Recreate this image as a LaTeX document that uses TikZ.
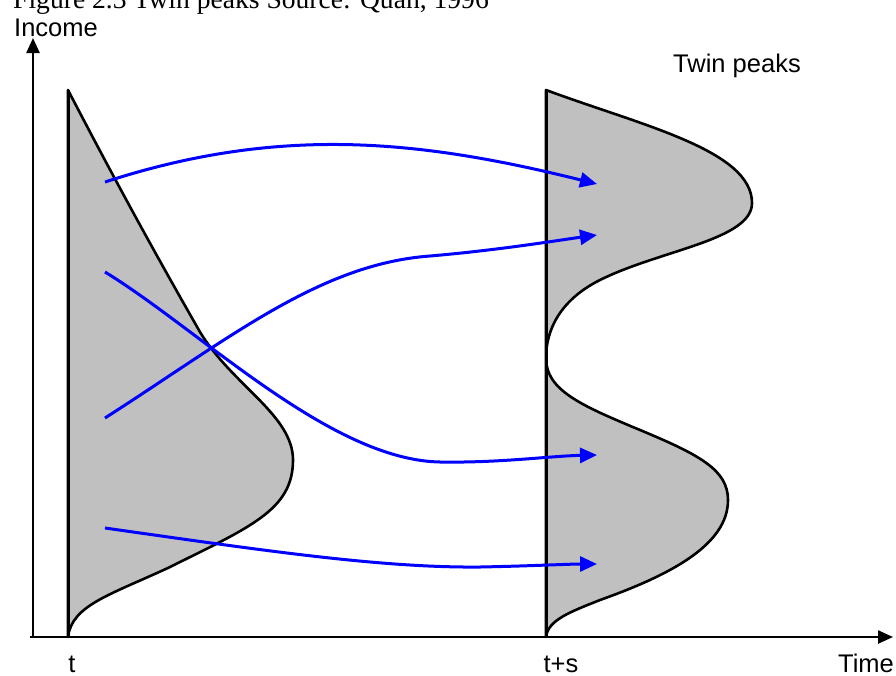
\documentclass[tikz,border=0pt]{standalone}
\usepackage{fontspec}
\setmainfont{Liberation Sans}
\newfontfamily\capfont{Liberation Serif}
\usetikzlibrary{arrows.meta}
\definecolor{distgray}{RGB}{192,192,192}
\definecolor{flowblue}{RGB}{0,0,255}
\begin{document}
\begin{tikzpicture}[x=1pt,y=-1pt,
  axisline/.style={line width=2.4pt, -{Triangle[length=15pt,width=13pt]}},
  dist/.style={fill=distgray, draw=black, line width=2.6pt, line join=round},
  baseline/.style={line width=3pt},
  flow/.style={draw=flowblue, line width=3pt, -{Triangle[length=17pt,width=15pt]}},
  lbl/.style={font=\fontsize{25.5}{26}\selectfont, inner sep=0pt, anchor=base}]
\useasboundingbox (0,0) rectangle (896,675);
\clip (0,0) rectangle (896,675);
% caption (cropped at the top)
\node[font=\capfont\fontsize{27.6}{28}\selectfont, anchor=base west, inner sep=0pt] (cap) at (13,8) {Figure 2.3 Twin peaks Source: Quah, 1996};
% coordinates
\coordinate (origin) at (33,637);
\coordinate (xstart) at (30,637);
\coordinate (ytop) at (33,38);
\coordinate (xend) at (893,637);
\coordinate (lbot) at (68,637);
\coordinate (ltop) at (68,90);
\coordinate (rbot) at (546,637);
\coordinate (rtop) at (546,90);
% left distribution (time t)
\path[dist] (lbot) -- (ltop) .. controls (120,190) and (160,262) .. (200,332)
  .. controls (232,385) and (293,415) .. (293,460)
  .. controls (293,510) and (250,527) .. (170,567)
  .. controls (110,595) and (72,605) .. (lbot) -- cycle;
\draw[baseline] (lbot) -- (ltop);
% right distribution (time t+s)
\path[dist] (rbot) -- (rtop) .. controls (640,125) and (752,150) .. (752,203)
  .. controls (752,240) and (660,250) .. (600,280)
  .. controls (560,300) and (546,330) .. (546,358)
  .. controls (546,390) and (580,405) .. (640,430)
  .. controls (700,455) and (728,470) .. (728,500)
  .. controls (728,545) and (670,575) .. (600,600)
  .. controls (570,612) and (548,620) .. (rbot) -- cycle;
\draw[baseline] (rbot) -- (rtop);
% axes
\draw[axisline] (origin) -- (ytop);
\draw[axisline] (xstart) -- (xend);
% flows
\coordinate (a1s) at (105,182); \coordinate (a1e) at (597,184);
\coordinate (a2s) at (105,418); \coordinate (a2e) at (597,235);
\coordinate (a3s) at (105,272); \coordinate (a3e) at (597,455);
\coordinate (a4s) at (105,528); \coordinate (a4e) at (597,564);
\draw[flow] (a1s) .. controls (280,125) and (420,140) .. (a1e);
\draw[flow] (a2s) .. controls (230,338) and (320,264) .. (430,256)
  .. controls (500,250) and (560,240) .. (a2e);
\draw[flow] (a3s) .. controls (200,330) and (330,460) .. (440,462)
  .. controls (500,463) and (550,456) .. (a3e);
\draw[flow] (a4s) .. controls (260,550) and (380,568) .. (480,567)
  .. controls (530,566) and (570,564) .. (a4e);
% labels
\node[lbl] (income) at (56,36) {Income};
\node[lbl] (twin) at (737,72) {Twin peaks};
\node[lbl] (tlbl) at (72,672) {t};
\node[lbl] (tslbl) at (561,672) {t+s};
\node[lbl] (time) at (866,672) {Time};
\end{tikzpicture}
\end{document}
